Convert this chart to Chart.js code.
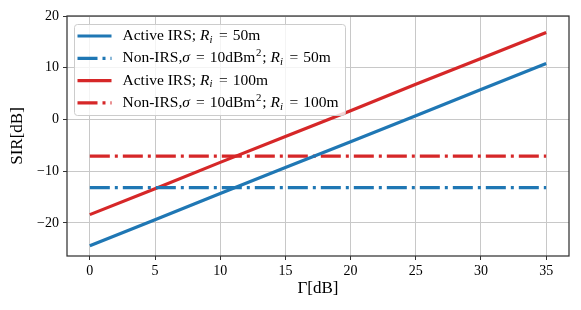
<!DOCTYPE html>
<html>
<head>
<meta charset="utf-8">
<script src="https://cdn.jsdelivr.net/npm/chart.js@4.4.1/dist/chart.umd.min.js"></script>
<style>
  html, body { margin: 0; padding: 0; background: #fff; }
</style>
</head>
<body>
<canvas id="sirChart" width="581" height="310"></canvas>
<script>
// values
const gammaDb = [0, 5, 10, 15, 20, 25, 30, 35];
const activeIrs50 = [-24.4, -19.4, -14.3, -9.3, -4.3, 0.7, 5.8, 10.8];
const nonIrs50 = [-13.2, -13.2, -13.2, -13.2, -13.2, -13.2, -13.2, -13.2];
const activeIrs100 = [-18.4, -13.4, -8.3, -3.3, 1.7, 6.8, 11.8, 16.8];
const nonIrs100 = [-7.1, -7.1, -7.1, -7.1, -7.1, -7.1, -7.1, -7.1];

const seriesLabels = [
  'Active IRS; R_i = 50m',
  'Non-IRS,σ = 10dBm^2; R_i = 50m',
  'Active IRS; R_i = 100m',
  'Non-IRS,σ = 10dBm^2; R_i = 100m',
];
const xTicks = [0, 5, 10, 15, 20, 25, 30, 35];
const yTicks = [-20, -10, 0, 10, 20];

const BLUE = '#1f77b4';
const RED = '#d62728';
const SERIF = '"Liberation Serif", "DejaVu Serif", serif';
const DASHDOT = [20, 5, 3, 5];

const toPoints = ys => gammaDb.map((x, i) => ({ x, y: ys[i] }));

function makeSet(label, values, color, dash) {
  return {
    label,
    data: toPoints(values),
    borderColor: color,
    backgroundColor: color,
    borderWidth: 3.2,
    borderDash: dash,
    borderCapStyle: 'butt',
    pointRadius: 0,
    tension: 0,
    fill: false,
  };
}

// draw a label with italic R, subscript i, superscript 2 like the mathtext version
function drawRichText(ctx, text, x, y, size) {
  const parts = text.split(/(R_i|σ|\^2| = )/).filter(p => p !== '');
  ctx.textBaseline = 'middle';
  ctx.textAlign = 'left';
  parts.forEach(p => {
    if (p === 'R_i') {
      ctx.font = `italic ${size}px ${SERIF}`;
      ctx.fillText('R', x, y);
      x += ctx.measureText('R').width;
      ctx.font = `italic ${size * 0.7}px ${SERIF}`;
      ctx.fillText('i', x, y + size * 0.25);
      x += ctx.measureText('i').width + 1.5;
    } else if (p === 'σ') {
      ctx.font = `italic ${size}px ${SERIF}`;
      ctx.fillText(p, x, y);
      x += ctx.measureText(p).width + 1;
    } else if (p === ' = ') {
      ctx.font = `${size}px ${SERIF}`;
      x += 5;
      ctx.fillText('=', x, y);
      x += ctx.measureText('=').width + 5;
    } else if (p === '^2') {
      ctx.font = `${size * 0.7}px ${SERIF}`;
      ctx.fillText('2', x + 0.5, y - size * 0.32);
      x += ctx.measureText('2').width + 1.5;
    } else {
      ctx.font = `${size}px ${SERIF}`;
      ctx.fillText(p, x, y);
      x += ctx.measureText(p).width;
    }
  });
  return x;
}

const framePlugin = {
  id: 'frame',
  afterDatasetsDraw(chart) {
    const { ctx, chartArea: a } = chart;
    ctx.save();
    ctx.strokeStyle = '#333';
    ctx.lineWidth = 1.25;
    ctx.strokeRect(a.left, a.top, a.right - a.left, a.bottom - a.top);
    ctx.restore();
  }
};

const legendPlugin = {
  id: 'texLegend',
  afterDraw(chart) {
    const { ctx, chartArea: a } = chart;
    const sets = chart.data.datasets;
    const size = 15.5;
    const boxX = a.left + 7.5, boxY = a.top + 8.5;
    const rowH = 22.3;
    ctx.save();
    let maxW = 0;
    sets.forEach(ds => {
      // measure by drawing off-screen
      const end = drawRichText(ctx, ds.label, -2000, -2000, size);
      maxW = Math.max(maxW, end + 2000);
    });
    const boxW = 48 + maxW + 7;
    const boxH = 91;
    ctx.beginPath();
    ctx.roundRect(boxX, boxY, boxW, boxH, 3);
    ctx.fillStyle = 'rgba(255,255,255,0.8)';
    ctx.fill();
    ctx.strokeStyle = '#cccccc';
    ctx.lineWidth = 1;
    ctx.stroke();
    sets.forEach((ds, i) => {
      const cy = boxY + 11.5 + i * rowH;
      ctx.beginPath();
      ctx.setLineDash(ds.borderDash || []);
      ctx.lineCap = 'butt';
      ctx.strokeStyle = ds.borderColor;
      ctx.lineWidth = ds.borderWidth;
      ctx.moveTo(boxX + 3, cy);
      ctx.lineTo(boxX + 37, cy);
      ctx.stroke();
      ctx.setLineDash([]);
      ctx.fillStyle = '#000';
      drawRichText(ctx, ds.label, boxX + 48, cy, size);
    });
    ctx.restore();
  }
};

new Chart(document.getElementById('sirChart'), {
  type: 'line',
  data: {
    datasets: [
      makeSet(seriesLabels[0], activeIrs50, BLUE, []),
      makeSet(seriesLabels[1], nonIrs50, BLUE, DASHDOT),
      makeSet(seriesLabels[2], activeIrs100, RED, []),
      makeSet(seriesLabels[3], nonIrs100, RED, DASHDOT),
    ]
  },
  options: {
    responsive: false,
    animation: false,
    layout: { padding: { left: 0, right: 12, top: 16, bottom: 0 } },
    plugins: {
      legend: { display: false },
      tooltip: { enabled: false },
    },
    scales: {
      x: {
        type: 'linear',
        min: -1.75,
        max: 36.75,
        afterBuildTicks: s => { s.ticks = xTicks.map(v => ({ value: v })); },
        afterFit: s => { s.height = 54; },
        border: { display: false },
        grid: { color: '#c8c8c8', lineWidth: 1, tickColor: '#333', tickLength: 4, drawTicks: true },
        ticks: { color: '#000', font: { family: SERIF, size: 14 }, padding: 3, maxRotation: 0 },
        title: { display: true, text: 'Γ[dB]', color: '#000', font: { family: SERIF, size: 17 }, padding: { top: 0, bottom: 11 } },
      },
      y: {
        min: -26.4,
        max: 20,
        afterBuildTicks: s => { s.ticks = yTicks.map(v => ({ value: v })); },
        afterFit: s => { s.width = 67; },
        border: { display: false },
        grid: { color: '#c8c8c8', lineWidth: 1, tickColor: '#333', tickLength: 4, drawTicks: true },
        ticks: {
          color: '#000',
          font: { family: SERIF, size: 14 },
          padding: 4,
          callback: v => String(v).replace('-', '\u2212'),
        },
        title: { display: true, text: 'SIR[dB]', color: '#000', font: { family: SERIF, size: 17 }, padding: { top: 7, bottom: 0 } },
      },
    },
  },
  plugins: [framePlugin, legendPlugin],
});
</script>
</body>
</html>
